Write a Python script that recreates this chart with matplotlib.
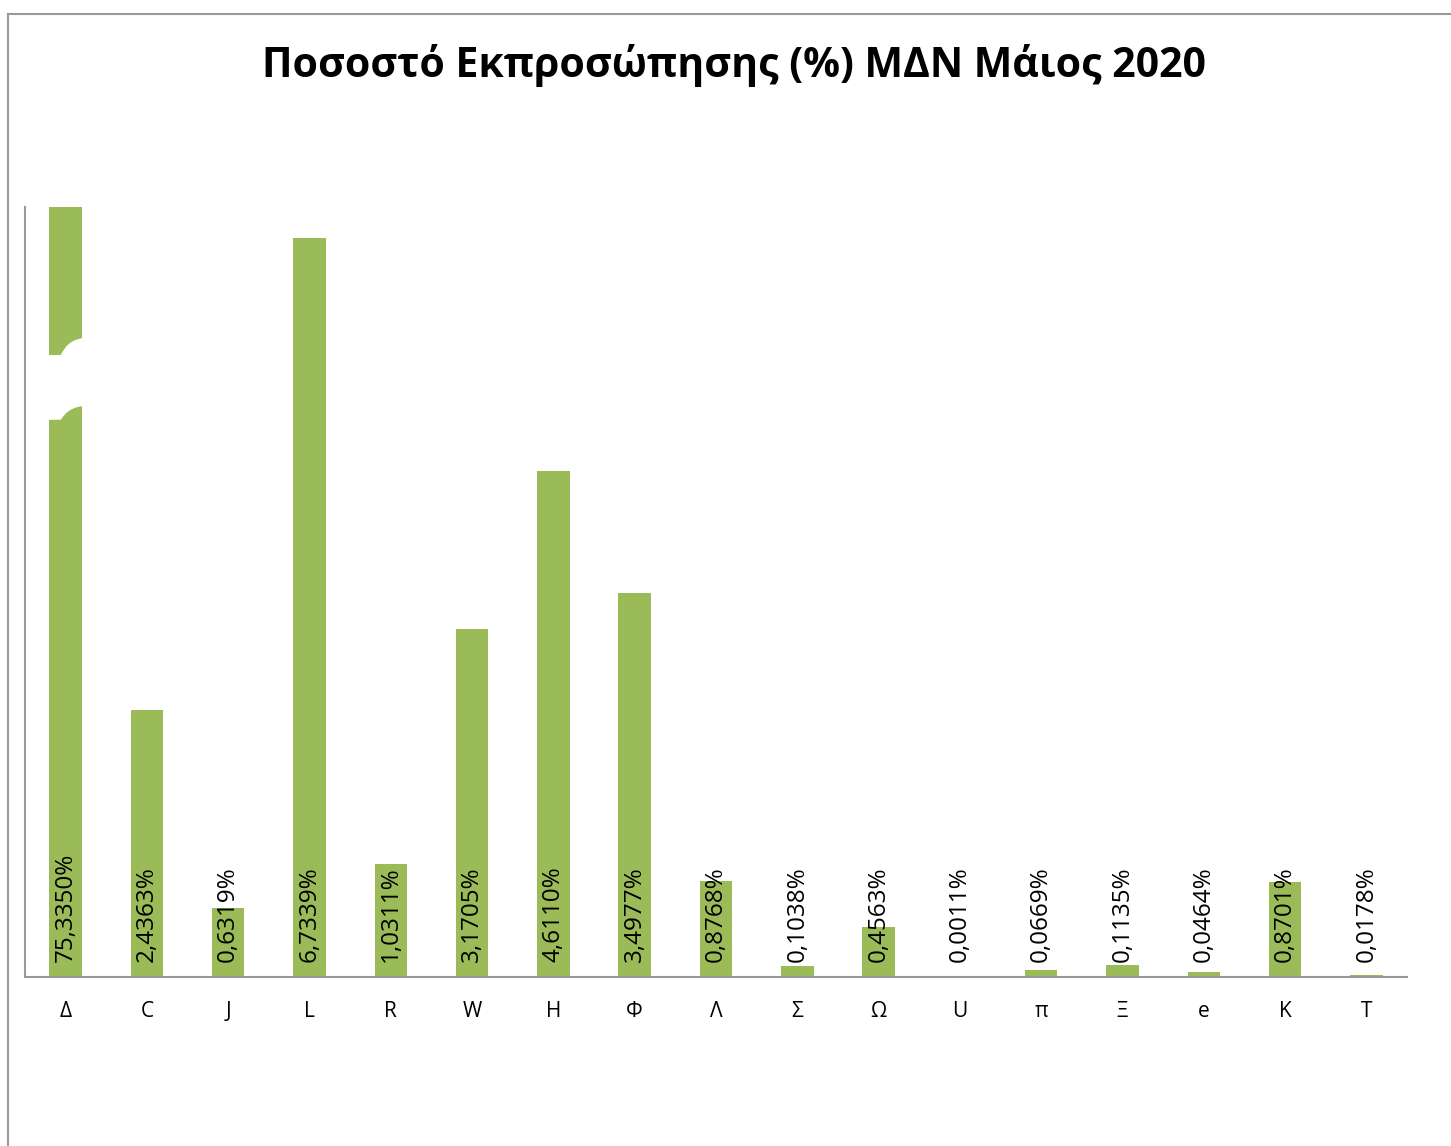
import numpy as np
import matplotlib
matplotlib.use("Agg")
import matplotlib.pyplot as plt
from matplotlib.lines import Line2D
from matplotlib.patches import PathPatch
from matplotlib.path import Path

# δεδομένα
categories = ["Δ", "C", "J", "L", "R", "W", "H", "Φ", "Λ", "Σ", "Ω", "U", "π", "Ξ", "e", "K", "T"]
values = [75.3350, 2.4363, 0.6319, 6.7339, 1.0311, 3.1705, 4.6110, 3.4977, 0.8768,
          0.1038, 0.4563, 0.0011, 0.0669, 0.1135, 0.0464, 0.8701, 0.0178]
title = "Ποσοστό Εκπροσώπησης (%) ΜΔΝ Μάιος 2020"

ymax = 7.02
bar_color = "#9BBB59"

plt.rcParams["font.family"] = ["Open Sans", "DejaVu Sans"]

fig = plt.figure(figsize=(14.51, 11.46), dpi=100)
ax = fig.add_axes([0.0172, 0.1475, 0.9525, 0.6719])

x = np.arange(len(categories))
heights = [min(v, ymax) for v in values]
ax.bar(x, heights, width=0.4, color=bar_color, zorder=2)

# σπάσιμο της πρώτης μπάρας (εκτός κλίμακας)
y0 = 5.67
y1 = 5.08
verts = [(-0.45, y0), (-0.06, y0), (0.0, y0 + 0.08), (0.06, y0 + 0.16), (0.32, y0 + 0.16),
         (0.32, y1 + 0.13), (0.06, y1 + 0.13), (0.0, y1 + 0.06), (-0.06, y1), (-0.45, y1), (-0.45, y0)]
codes = [Path.MOVETO, Path.LINETO, Path.CURVE4, Path.CURVE4, Path.CURVE4,
         Path.LINETO, Path.CURVE4, Path.CURVE4, Path.CURVE4, Path.LINETO, Path.CLOSEPOLY]
ax.add_patch(PathPatch(Path(verts, codes), facecolor="white", edgecolor="none", zorder=3))

# ετικέτες τιμών
for i, v in enumerate(values):
    txt = f"{v:.4f}".replace(".", ",") + "%"
    ax.annotate(txt, xy=(i, 0), xytext=(0, 11), textcoords="offset points",
                rotation=90, ha="center", va="bottom", fontsize=17.5, color="black", zorder=4)

ax.set_xlim(-0.5, 16.5)
ax.set_ylim(0, ymax)
ax.set_xticks(x)
ax.set_xticklabels(categories, fontsize=15)
ax.tick_params(axis="x", length=0, pad=17)
ax.set_yticks([])
for s in ["top", "right"]:
    ax.spines[s].set_visible(False)
ax.spines["left"].set_color("#999999")
ax.spines["bottom"].set_color("#999999")
ax.spines["left"].set_linewidth(1.5)
ax.spines["bottom"].set_linewidth(1.5)

fig.text(0.506, 0.943, title, ha="center", va="center", fontsize=29.5, fontweight="bold")

# περίγραμμα γραφήματος
fig.add_artist(Line2D([0.0055, 1.0], [0.9878, 0.9878], color="#999999", lw=1.5))
fig.add_artist(Line2D([0.0055, 0.0055], [0.0, 0.9878], color="#999999", lw=1.5))

fig.savefig("out.png", dpi=100, facecolor="white")
